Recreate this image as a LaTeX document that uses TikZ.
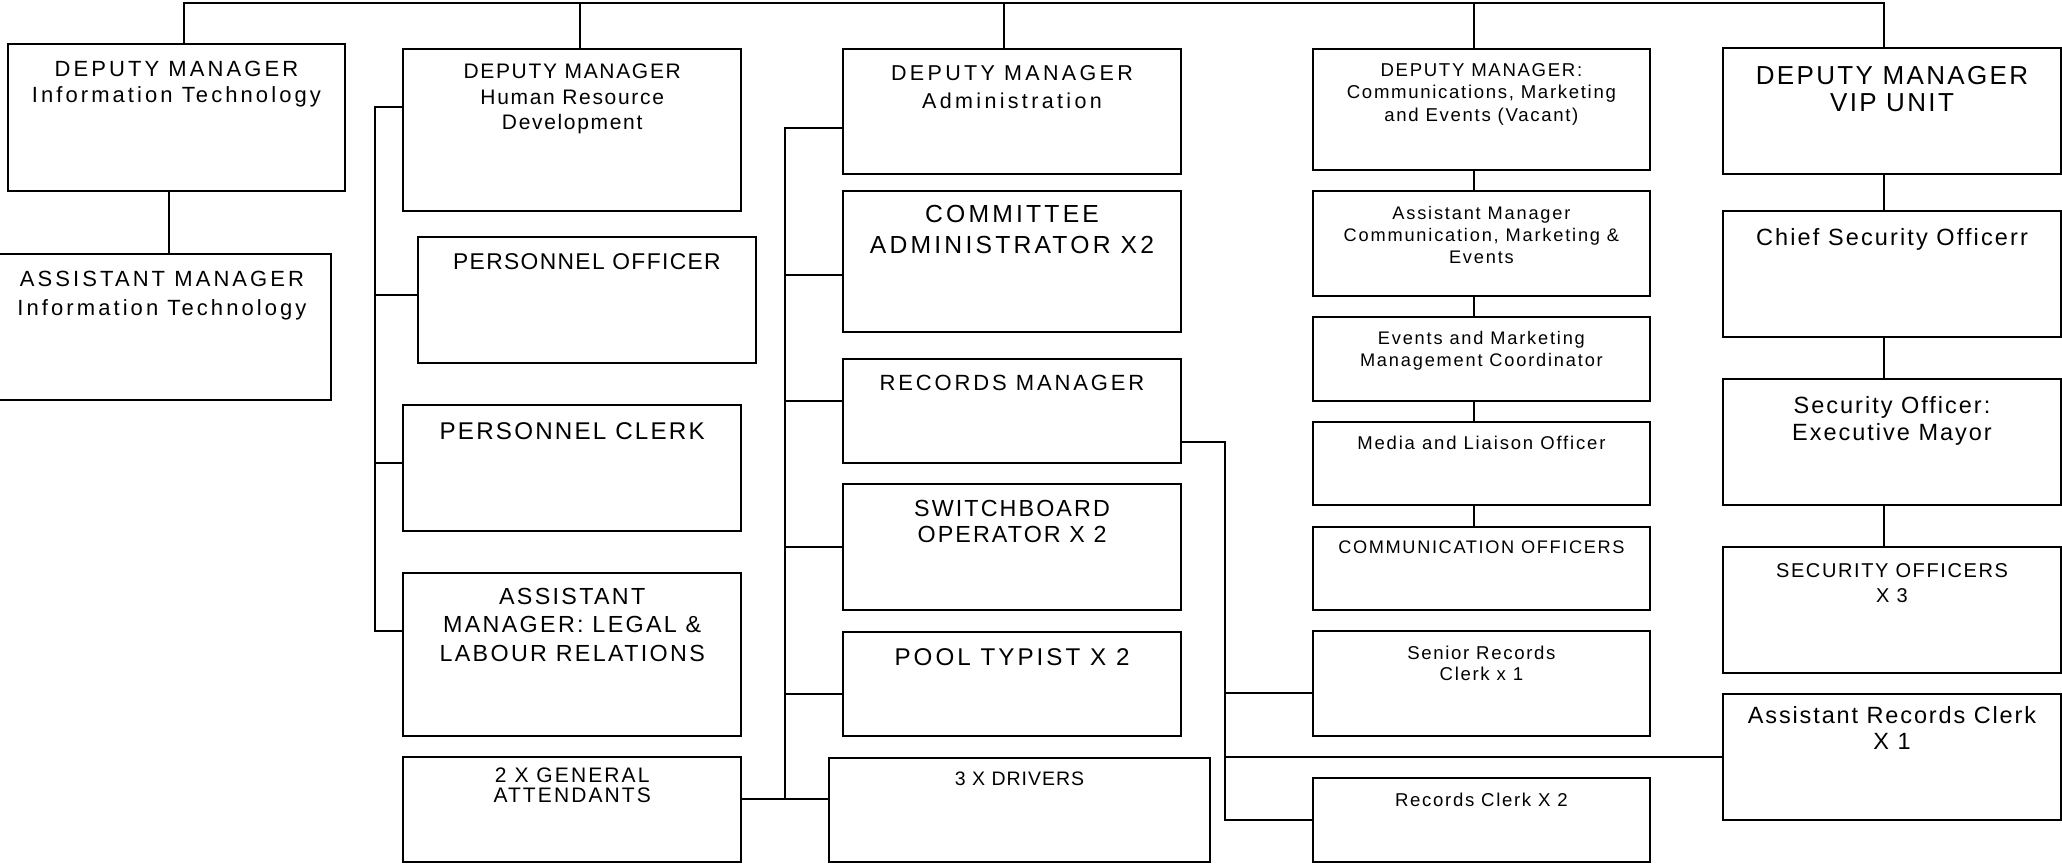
\documentclass[tikz,border=0pt]{standalone}
\usepackage{fontspec}
\setmainfont{Liberation Sans}
\usetikzlibrary{calc}
\newcommand\tfont[3]{\fontsize{#1}{#2}\selectfont\addfontfeature{LetterSpace=#3}}
\newcommand\obox[5]{\node[boxst, minimum width={#4-#2}, minimum height={#5-#3}] (#1) at ({(#2+#4)/2},{(#3+#5)/2}) {};}
\begin{document}
\begin{tikzpicture}[x=1pt,y=-1pt,
  boxst/.style={draw, line width=2pt, inner sep=0pt, outer sep=0pt, rectangle},
  txt/.style={anchor=north, align=center, inner sep=0pt, outer sep=0pt},
  ln/.style={line width=2pt}]
\fill[white] (0,0) rectangle (2062,863);
\useasboundingbox (0,0) rectangle (2062,863);
% boxes
\obox{dmit}{7.7}{44}{345}{191}
\obox{amit}{-7}{254}{330.6}{400}
\obox{dmhr}{403.3}{49}{741}{211}
\obox{persoff}{417.7}{237.3}{756}{362.7}
\obox{persclerk}{403.3}{405}{741}{530.7}
\obox{amlegal}{403.3}{572.7}{741}{736}
\obox{ga}{403.3}{756.7}{741}{861.7}
\obox{dmadmin}{843.3}{48.7}{1180.7}{174}
\obox{committee}{843.3}{190.7}{1180.7}{332.3}
\obox{recmgr}{843.3}{359}{1180.7}{463.3}
\obox{switch}{843.3}{484.3}{1180.7}{610}
\obox{pool}{843.3}{631.5}{1180.7}{736}
\obox{drivers}{829}{757.5}{1210}{861.7}
\obox{dmcomm}{1312.7}{49}{1650}{170}
\obox{amcomm}{1312.7}{190.7}{1650}{295.7}
\obox{events}{1312.7}{316.7}{1650}{400.7}
\obox{media}{1312.7}{421.7}{1650}{505.3}
\obox{commoff}{1312.7}{526.5}{1650}{610}
\obox{senrec}{1312.7}{631}{1650}{735.7}
\obox{recclerk}{1312.7}{777.7}{1650}{861.7}
\obox{dmvip}{1723}{48.3}{2061}{174}
\obox{chief}{1723}{211.3}{2061}{336.8}
\obox{secoff}{1723}{379.2}{2061}{504.7}
\obox{secofficers}{1723}{547}{2061}{672.5}
\obox{asstrec}{1723}{694}{2061}{819.5}
% texts
\node[txt, font=\tfont{22}{26.7}{14}] (dmit-t) at (176.4,60.7) {DEPUTY MANAGER\\Information Technology};
\node[txt, font=\tfont{22}{29}{14}] (amit-t) at (162,270.7) {ASSISTANT MANAGER\\Information Technology};
\node[txt, font=\tfont{21}{25.5}{8}] (dmhr-t) at (572.2,64) {DEPUTY MANAGER\\Human Resource\\Development};
\node[txt, font=\tfont{22.8}{27}{6}] (persoff-t) at (586.9,254) {PERSONNEL OFFICER};
\node[txt, font=\tfont{24.2}{28}{9}] (persclerk-t) at (572.2,422.7) {PERSONNEL CLERK};
\node[txt, font=\tfont{23.3}{28.3}{10}] (amlegal-t) at (572.2,588.3) {ASSISTANT\\MANAGER: LEGAL \&\\LABOUR RELATIONS};
\node[txt, font=\tfont{21}{19.3}{10}] (ga-t) at (572.2,768.3) {2 X GENERAL\\ATTENDANTS};
\node[txt, font=\tfont{21.5}{28}{15.5}] (dmadmin-t) at (1012,65.7) {DEPUTY MANAGER\\Administration};
\node[txt, font=\tfont{24.7}{31}{13}] (committee-t) at (1012,205) {COMMITTEE\\ADMINISTRATOR X2};
\node[txt, font=\tfont{22}{26}{13}] (recmgr-t) at (1012,375) {RECORDS MANAGER};
\node[txt, font=\tfont{23.3}{26.6}{9}] (switch-t) at (1012,500) {SWITCHBOARD\\OPERATOR X 2};
\node[txt, font=\tfont{24.2}{28}{12.5}] (pool-t) at (1012,648.3) {POOL TYPIST X 2};
\node[txt, font=\tfont{19.5}{22}{5}] (drivers-t) at (1019.5,771.7) {3 X DRIVERS};
\node[txt, font=\tfont{18.6}{22.5}{9}] (dmcomm-t) at (1481.4,63.3) {DEPUTY MANAGER:\\Communications, Marketing\\and Events (Vacant)};
\node[txt, font=\tfont{18.2}{22.2}{10}] (amcomm-t) at (1481.4,206) {Assistant Manager\\Communication, Marketing \&\\Events};
\node[txt, font=\tfont{18.2}{22.7}{10}] (events-t) at (1481.4,331) {Events and Marketing\\Management Coordinator};
\node[txt, font=\tfont{18.5}{22}{10}] (media-t) at (1481.4,435.7) {Media and Liaison Officer};
\node[txt, font=\tfont{18.2}{22}{9}] (commoff-t) at (1481.4,541) {COMMUNICATION OFFICERS};
\node[txt, font=\tfont{18.6}{21.4}{9}] (senrec-t) at (1481.4,646) {Senior Records\\Clerk x 1};
\node[txt, font=\tfont{18.6}{22}{9}] (recclerk-t) at (1481.4,792.7) {Records Clerk X 2};
\node[txt, font=\tfont{26}{27.7}{9}] (dmvip-t) at (1892,66) {DEPUTY MANAGER\\VIP UNIT};
\node[txt, font=\tfont{23.5}{27}{9}] (chief-t) at (1892,228) {Chief Security Officerr};
\node[txt, font=\tfont{23.5}{27}{8.5}] (secoff-t) at (1892,396) {Security Officer:\\Executive Mayor};
\node[txt, font=\tfont{20}{24.7}{8}] (secofficers-t) at (1892,563.6) {SECURITY OFFICERS\\X 3};
\node[txt, font=\tfont{23.5}{26}{8}] (asstrec-t) at (1892,706.9) {Assistant Records Clerk\\X 1};
% connectors
\coordinate (top) at (0,3);
\coordinate (hb) at (374.5,0);
\coordinate (ab) at (785,0);
\coordinate (rb) at (1225,0);
\draw[ln] ([xshift=7.3pt]dmit.north) |- ([xshift=-8pt]dmvip.north |- top) -- ([xshift=-8pt]dmvip.north);
\draw[ln] ([xshift=7.45pt]dmhr.north) -- ([xshift=7.45pt]dmhr.north |- top);
\draw[ln] ([xshift=-7.6pt]dmadmin.north) -- ([xshift=-7.6pt]dmadmin.north |- top);
\draw[ln] ([xshift=-7.35pt]dmcomm.north) -- ([xshift=-7.35pt]dmcomm.north |- top);
\draw[ln] ([xshift=7.2pt]amit.north) -- ([xshift=7.2pt]amit.north |- dmit.south);
% HR bus
\draw[ln] ([yshift=23.3pt]dmhr.west) -| ([yshift=23.7pt]amlegal.west -| hb) -- ([yshift=23.7pt]amlegal.west);
\draw[ln] ([yshift=5pt]persoff.west) -- ([yshift=5pt]persoff.west -| hb);
\draw[ln] ([yshift=4.5pt]persclerk.west) -- ([yshift=4.5pt]persclerk.west -| hb);
% Admin bus
\draw[ln] ([yshift=-16.35pt]dmadmin.west) -| ([yshift=10.6pt]drivers.west -| ab);
\draw[ln] ([yshift=10.2pt]ga.east) -- ([yshift=10.2pt]ga.east -| drivers.west);
\draw[ln] ([yshift=-13pt]committee.west) -- ([yshift=-13pt]committee.west -| ab);
\draw[ln] ([yshift=10.6pt]recmgr.west) -- ([yshift=10.6pt]recmgr.west -| ab);
\draw[ln] (switch.west) -- (switch.west -| ab);
\draw[ln] ([yshift=-10.25pt]pool.west) -- ([yshift=-10.25pt]pool.west -| ab);
% Records branch
\draw[ln] ([yshift=-31.15pt]recmgr.east) -| (recclerk.west -| rb) -- (recclerk.west);
\draw[ln] ([yshift=-9.95pt]senrec.west) -- ([yshift=-9.95pt]senrec.west -| rb);
\draw[ln] (asstrec.west) -- (asstrec.west -| rb);
% Comm chain
\draw[ln] ([xshift=-7.35pt]dmcomm.south) -- ([xshift=-7.35pt]amcomm.north);
\draw[ln] ([xshift=-7.35pt]amcomm.south) -- ([xshift=-7.35pt]events.north);
\draw[ln] ([xshift=-7.35pt]events.south) -- ([xshift=-7.35pt]media.north);
\draw[ln] ([xshift=-7.35pt]media.south) -- ([xshift=-7.35pt]commoff.north);
% VIP chain
\draw[ln] ([xshift=-8pt]dmvip.south) -- ([xshift=-8pt]chief.north);
\draw[ln] ([xshift=-8pt]chief.south) -- ([xshift=-8pt]secoff.north);
\draw[ln] ([xshift=-8pt]secoff.south) -- ([xshift=-8pt]secofficers.north);
\end{tikzpicture}
\end{document}
